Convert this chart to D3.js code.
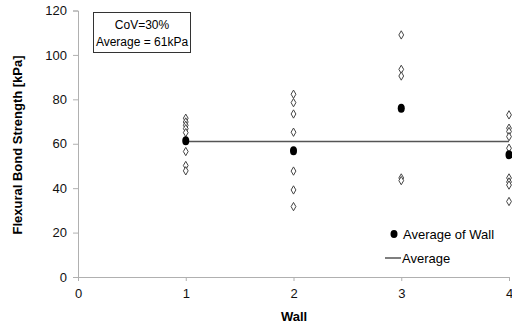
<!DOCTYPE html>
<html>
<head>
<meta charset="utf-8">
<script src="https://cdn.jsdelivr.net/npm/d3@7"></script>
<style>
  body { margin: 0; background: #fff; }
  svg { font-family: "Liberation Sans", Arial, sans-serif; }
</style>
</head>
<body>
<div id="chart"></div>
<script>
// data
var walls = [1, 2, 3, 4];
var wall1 = [71.5, 69.8, 68.3, 66.8, 65, 56.5, 50.2, 47.8];
var wall2 = [82.3, 78.5, 73.4, 65.2, 47.7, 39.2, 31.7];
var wall3 = [109, 93.5, 90.5, 44.6, 43.4];
var wall4 = [73, 67, 65.5, 63.2, 58, 44.6, 42.8, 41.4, 34];
var wallAvg = [61.4, 56.9, 76, 55];
var overallAvg = 61;
var yTicks = [0, 20, 40, 60, 80, 100, 120];
var xTicks = [0, 1, 2, 3, 4];

var width = 512, height = 325;
var svg = d3.select("#chart").append("svg")
  .attr("width", width).attr("height", height);

var x = d3.scaleLinear().domain([0, 4]).range([78, 509]);
var y = d3.scaleLinear().domain([0, 120]).range([277, 10.5]);

// axes
var yAxis = svg.append("g")
  .attr("transform", "translate(78,0)")
  .call(d3.axisLeft(y).tickValues(yTicks).tickFormat(d3.format("d")).tickSize(5).tickPadding(6));
var xAxis = svg.append("g")
  .attr("transform", "translate(0,277)")
  .call(d3.axisBottom(x).tickValues(xTicks).tickFormat(d3.format("d")).tickSize(4).tickPadding(8));
[xAxis, yAxis].forEach(function(g) {
  g.select(".domain").attr("stroke", "#b0b0b0");
  g.selectAll(".tick line").attr("stroke", "#b0b0b0");
  g.selectAll(".tick text").attr("fill", "#111").style("font-size", "13px")
    .style("font-family", "Liberation Sans, Arial, sans-serif");
});

// axis titles
svg.append("text")
  .attr("transform", "translate(22,145) rotate(-90)")
  .attr("text-anchor", "middle")
  .style("font-size", "13px").style("font-weight", "bold")
  .text("Flexural Bond Strength [kPa]");
svg.append("text")
  .attr("x", 294).attr("y", 321)
  .attr("text-anchor", "middle")
  .style("font-size", "13px").style("font-weight", "bold")
  .text("Wall");

// average line
svg.append("line")
  .attr("x1", x(1)).attr("x2", x(4))
  .attr("y1", y(overallAvg)).attr("y2", y(overallAvg))
  .attr("stroke", "#555").attr("stroke-width", 1.5);

// individual tests (open diamonds)
var pts = [];
[wall1, wall2, wall3, wall4].forEach(function(arr, i) {
  arr.forEach(function(v) { pts.push({w: walls[i], v: v}); });
});
var diamond = d3.symbol().type(d3.symbolDiamond).size(20);
svg.selectAll(".pt").data(pts).enter().append("path")
  .attr("class", "pt")
  .attr("d", diamond)
  .attr("transform", function(d) { return "translate(" + x(d.w) + "," + y(d.v) + ")"; })
  .attr("fill", "#fff").attr("stroke", "#444").attr("stroke-width", 1);

// averages per wall
svg.selectAll(".avg").data(wallAvg).enter().append("ellipse")
  .attr("cx", function(d, i) { return x(walls[i]); })
  .attr("cy", function(d) { return y(d); })
  .attr("rx", 3.5).attr("ry", 4.5)
  .attr("fill", "#000");

// text box
svg.append("rect")
  .attr("x", 93.5).attr("y", 12.5).attr("width", 97).attr("height", 40)
  .attr("fill", "#fff").attr("stroke", "#333");
svg.append("text").attr("x", 142).attr("y", 29)
  .attr("text-anchor", "middle").style("font-size", "12px")
  .text("CoV=30%");
svg.append("text").attr("x", 142).attr("y", 46)
  .attr("text-anchor", "middle").style("font-size", "12px")
  .text("Average = 61kPa");

// legend
svg.append("ellipse").attr("cx", 394).attr("cy", 234).attr("rx", 3.5).attr("ry", 4)
  .attr("fill", "#000");
svg.append("text").attr("x", 403).attr("y", 239)
  .style("font-size", "13px").text("Average of Wall");
svg.append("line").attr("x1", 385).attr("x2", 401).attr("y1", 258).attr("y2", 258)
  .attr("stroke", "#555").attr("stroke-width", 1.5);
svg.append("text").attr("x", 402).attr("y", 263)
  .style("font-size", "13px").text("Average");
</script>
</body>
</html>
